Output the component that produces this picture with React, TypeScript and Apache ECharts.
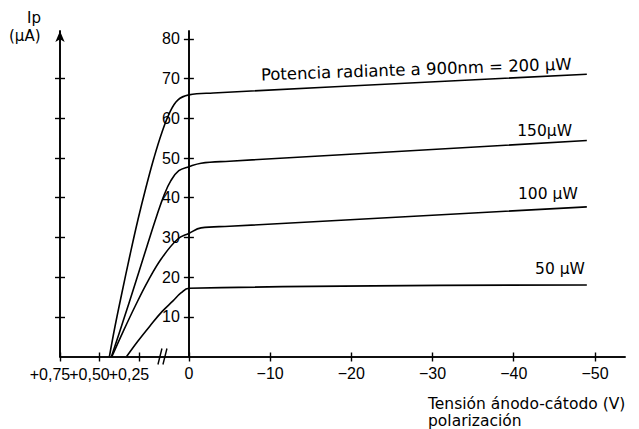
import React, { useEffect, useRef } from "react";
import * as echarts from "echarts";

// ---- data (V = anode-cathode voltage, I = photocurrent in µA) ----
const curveNames = ["200 µW", "150 µW", "100 µW", "50 µW"];
const curveLabels = ["Potencia radiante a 900nm = 200 µW", "150µW", "100 µW", "50 µW"];

// forward-bias part (V > 0)
const fwd200: number[][] = [[0.437, 0], [0.402, 7.5], [0.358, 16], [0.307, 25.5], [0.256, 34.5], [0.206, 42.5], [0.155, 50], [0.104, 56.5], [0.072, 61.5], [0.042, 64.6], [0, 65.9]];
const fwd150: number[][] = [[0.424, 0], [0.351, 8.8], [0.275, 18.2], [0.199, 27.8], [0.136, 35.6], [0.094, 40.6], [0.068, 44.3], [0.038, 46.8], [0, 47.8]];
const fwd100: number[][] = [[0.421, 0], [0.351, 6.2], [0.275, 12.6], [0.193, 19.0], [0.105, 24.8], [0.042, 29.6], [0, 31.0]];
const fwd50: number[][] = [[0.328, 0], [0.256, 3.9], [0.18, 7.7], [0.104, 11.3], [0.06, 14.0], [0.03, 16.0], [0, 17.2]];

// reverse-bias part (V < 0)
const rev200: number[][] = [[-3, 66.4], [-49, 71.1]];
const rev150: number[][] = [[-1.5, 48.7], [-5, 49.2], [-49, 54.4]];
const rev100: number[][] = [[-1.5, 32.4], [-5, 32.8], [-49, 37.7]];
const rev50: number[][] = [[-49, 18.0]];

// label anchor points [V, I]
const labelAnchors: number[][] = [[-28, 72.3], [-43.8, 56.8], [-44.2, 40.9], [-45.7, 22.0]];
const labelRotations = [2, 0, 0, 0];
const labelSizes = [16.5, 15.5, 15.5, 15.5];

// axis ticks
const xTickVolts = [0.75, 0.5, 0.25, 0, -10, -20, -30, -40, -50];
const xTickLabels = ["+0,75", "+0,50", "+0,25", "0", "−10", "−20", "−30", "−40", "−50"];
const yTicks = [10, 20, 30, 40, 50, 60, 70, 80];
const yTicksLeft = [10, 20, 30, 40, 50, 60, 70];

// ---- broken x axis: forward volts are drawn on an expanded scale ----
const FWD_SLOPE = 19.44;
const FWD_OFFSET = 1.29;
const BREAK_V = 0.098;
const BREAK_U = -(FWD_OFFSET + FWD_SLOPE * BREAK_V);
function toU(v: number): number {
  if (v <= 0) return -v;
  if (v >= BREAK_V) return -(FWD_OFFSET + FWD_SLOPE * v);
  return (BREAK_U * v) / BREAK_V;
}

const FONT = "Liberation Sans";
const TXT_FONT = "DejaVu Sans";
const GRID = { left: 60, right: 14, top: 31, bottom: 72.5 };
const W = 639;

export default function App() {
  const ref = useRef<HTMLDivElement>(null);
  useEffect(() => {
    if (!ref.current) return;
    const chart = echarts.init(ref.current, null, { renderer: "svg" });
    const fwds = [fwd200, fwd150, fwd100, fwd50];
    const revs = [rev200, rev150, rev100, rev50];
    const xMin = toU(0.75);
    const xMax = 53.7;
    const pxPerU = (W - GRID.left - GRID.right) / (xMax - xMin);
    const zeroOffset = -(0 - xMin) * pxPerU;
    const tickU = xTickVolts.map(toU);
    const revTickU = xTickVolts.filter((v) => v <= 0).map(toU);
    const labelFor = (val: number) => {
      const i = tickU.findIndex((u) => Math.abs(u - val) < 1e-6);
      return i < 0 ? "" : xTickLabels[i];
    };
    const axisLineStyle = { color: "#000", width: 1.6 };
    const tickStyle = { color: "#000", width: 1.4 };
    const baseX = {
      type: "value",
      min: xMin,
      max: xMax,
      position: "bottom",
      splitLine: { show: false },
      axisLine: { show: true, onZero: false, lineStyle: axisLineStyle },
    };
    const baseY = {
      type: "value",
      min: 0,
      max: 82,
      position: "left",
      splitLine: { show: false },
    };
    const series = curveNames.map((name, k) => ({
      name,
      type: "line",
      data: [...fwds[k], ...revs[k]].map(([v, i]) => [toU(v), i]),
      showSymbol: false,
      symbol: "none",
      smooth: 0.4,
      silent: true,
      lineStyle: { color: "#000", width: 1.6 },
      markPoint: {
        symbol: "circle",
        symbolSize: 0,
        silent: true,
        itemStyle: { color: "transparent" },
        label: {
          show: true,
          position: "inside",
          formatter: curveLabels[k],
          color: "#000",
          fontFamily: TXT_FONT,
          fontSize: labelSizes[k],
          rotate: labelRotations[k],
        },
        data: [{ coord: [toU(labelAnchors[k][0]), labelAnchors[k][1]] }],
      },
    }));
    chart.setOption({
      animation: false,
      backgroundColor: "#fff",
      grid: { ...GRID, containLabel: false },
      xAxis: [
        {
          ...baseX,
          axisTick: { show: true, customValues: tickU, length: 5, lineStyle: tickStyle },
          axisLabel: {
            show: true,
            customValues: revTickU,
            margin: 9,
            hideOverlap: false,
            formatter: labelFor,
            fontFamily: FONT,
            fontSize: 16,
            color: "#000",
          },
        },
        {
          ...baseX,
          axisTick: { show: true, inside: true, customValues: tickU, length: 4, lineStyle: tickStyle },
          axisLabel: { show: false },
        },
      ],
      yAxis: [
        {
          ...baseY,
          offset: zeroOffset,
          axisLine: { show: true, onZero: false, lineStyle: axisLineStyle },
          axisTick: { show: true, customValues: yTicks, length: 5, lineStyle: tickStyle },
          axisLabel: { show: true, customValues: yTicks, margin: 9, fontFamily: FONT, fontSize: 16, color: "#000" },
        },
        {
          ...baseY,
          offset: zeroOffset,
          axisLine: { show: true, onZero: false, lineStyle: axisLineStyle },
          axisTick: { show: true, inside: true, customValues: yTicks, length: 5, lineStyle: tickStyle },
          axisLabel: { show: false },
        },
        {
          ...baseY,
          axisLine: { show: true, onZero: false, lineStyle: axisLineStyle, symbol: ["none", "arrow"], symbolSize: [7, 11] },
          axisTick: { show: true, customValues: yTicksLeft, length: 5, lineStyle: tickStyle },
          axisLabel: { show: false },
        },
        {
          ...baseY,
          axisLine: { show: true, onZero: false, lineStyle: axisLineStyle },
          axisTick: { show: true, inside: true, customValues: yTicksLeft, length: 5, lineStyle: tickStyle },
          axisLabel: { show: false },
        },
      ],
      series,
    });

    const bx = chart.convertToPixel({ xAxisIndex: 0 }, toU(BREAK_V)) as number;
    const by = chart.convertToPixel({ yAxisIndex: 0 }, 0) as number;
    const txt = (text: string, x: number, y: number, size = 16, font = TXT_FONT, align = "left") => ({
      type: "text",
      x,
      y,
      silent: true,
      style: { text, fill: "#000", fontFamily: font, fontSize: size, verticalAlign: "top", align },
    });
    // forward-bias tick labels (drawn slightly left of their ticks, as in the original)
    const fwdLabels = xTickVolts
      .map((v, i) => ({ v, i }))
      .filter(({ v }) => v > 0)
      .map(({ v, i }) => {
        const px = chart.convertToPixel({ xAxisIndex: 0 }, toU(v)) as number;
        return txt(xTickLabels[i], px - 10, by + 10, 16, FONT, "center");
      });
    chart.setOption({
      graphic: [
        { type: "line", silent: true, shape: { x1: bx - 5, y1: by + 8, x2: bx - 1, y2: by - 8 }, style: { stroke: "#000", lineWidth: 1.4 } },
        { type: "line", silent: true, shape: { x1: bx, y1: by + 8, x2: bx + 4, y2: by - 8 }, style: { stroke: "#000", lineWidth: 1.4 } },
        ...fwdLabels,
        txt("Ip", 27, 10, 15),
        txt("(µA)", 9, 28, 15),
        txt("Tensión ánodo-cátodo (V)", 428, 396, 15.5),
        txt("polarización", 428, 413, 15.5),
      ],
    });
    return () => chart.dispose();
  }, []);
  return <div ref={ref} style={{ position: "fixed", left: 0, top: 0, width: 639, height: 429, background: "#fff" }} />;
}
